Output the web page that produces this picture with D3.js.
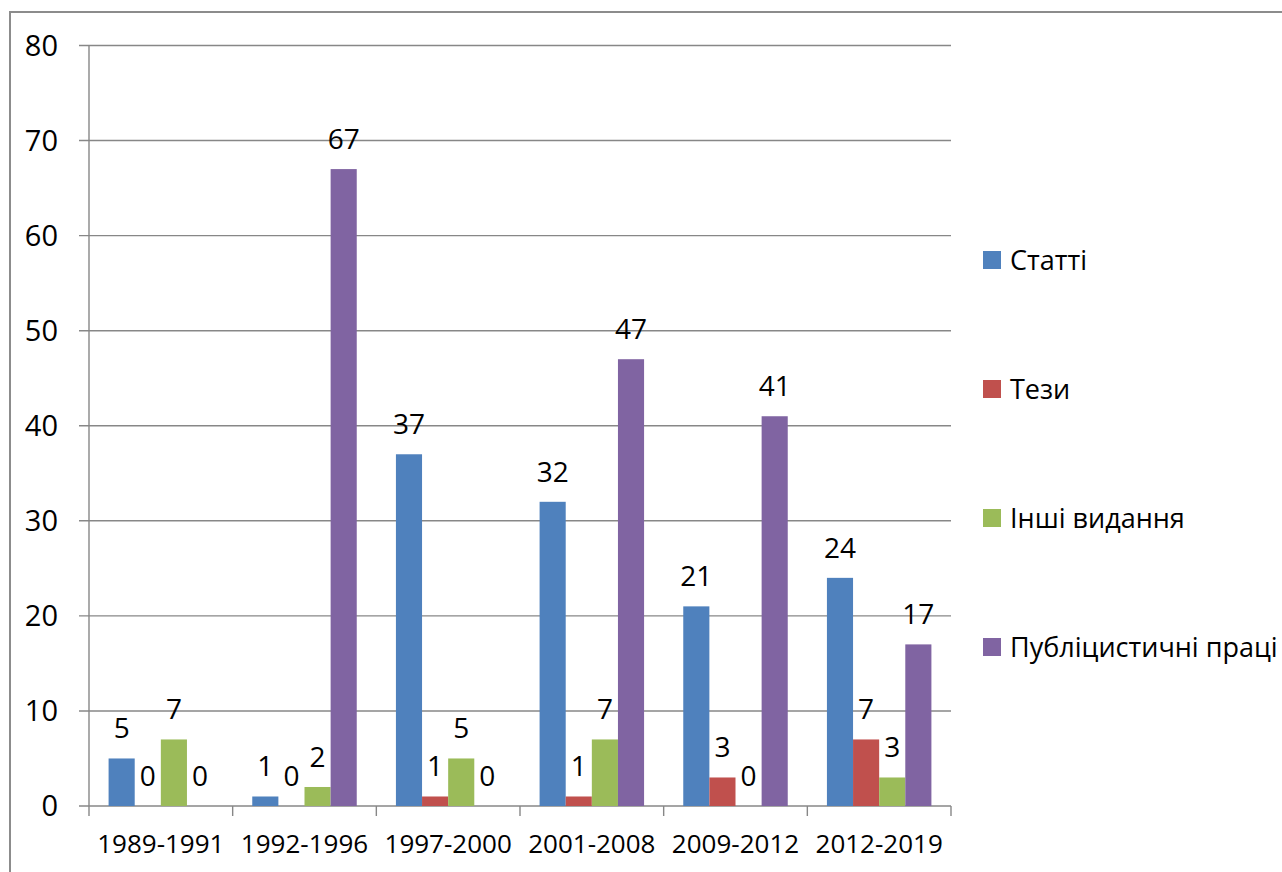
<!DOCTYPE html>
<html><head><meta charset="utf-8">
<script src="https://cdn.jsdelivr.net/npm/d3@7"></script>
<style>
html,body{margin:0;padding:0;background:#fff;overflow:hidden;}
svg{display:block;font-family:"Open Sans",sans-serif;}
</style></head>
<body>
<svg id="chart" width="1282" height="872"></svg>
<script>
const categories = ["1989-1991","1992-1996","1997-2000","2001-2008","2009-2012","2012-2019"];
const seriesNames = ["Статті","Тези","Інші видання","Публіцистичні праці"];
const statti = [5, 1, 37, 32, 21, 24];
const tezy = [0, 0, 1, 1, 3, 7];
const inshi = [7, 2, 5, 7, 0, 3];
const publ = [0, 67, 0, 47, 41, 17];
const yTicks = [0,10,20,30,40,50,60,70,80];
const colors = ["#4F81BD","#C0504D","#9BBB59","#8064A2"];

(function(){
const seriesValues = [statti, tezy, inshi, publ];
const svg = d3.select("#chart");

// outer frame
svg.append("rect").attr("x",10).attr("y",12).attr("width",1300).attr("height",900)
  .attr("fill","none").attr("stroke","#8c8c8c").attr("stroke-width",2);

const pL = 89, pR = 951, pT = 45.5, pB = 806;
const x = d3.scaleBand().domain(categories).range([pL,pR]).paddingInner(0).paddingOuter(0);
const xs = d3.scaleBand().domain(seriesNames).range([0,x.bandwidth()]).paddingInner(0).paddingOuter(0.75);
const y = d3.scaleLinear().domain([0,80]).range([pB,pT]);

// gridlines
svg.append("g").selectAll("line").data(yTicks).join("line")
  .attr("x1",79).attr("x2",pR)
  .attr("y1",d=>y(d)).attr("y2",d=>y(d))
  .attr("stroke","#878787").attr("stroke-width",1.4);

// y axis line
svg.append("line").attr("x1",pL).attr("x2",pL).attr("y1",pT).attr("y2",pB)
  .attr("stroke","#878787").attr("stroke-width",1.4);

// x ticks
const bounds = categories.map(c=>x(c)).concat([pR]);
svg.append("g").selectAll("line").data(bounds).join("line")
  .attr("x1",d=>d).attr("x2",d=>d).attr("y1",pB).attr("y2",pB+10)
  .attr("stroke","#878787").attr("stroke-width",1.4);

// y labels
svg.append("g").selectAll("text").data(yTicks).join("text")
  .attr("x",58).attr("y",d=>y(d)).attr("dy","0.36em")
  .attr("text-anchor","end").attr("font-size",29).attr("fill","#000")
  .text(d=>d);

// x labels
svg.append("g").selectAll("text").data(categories).join("text")
  .attr("x",d=>x(d)+x.bandwidth()/2).attr("y",853)
  .attr("text-anchor","middle").attr("font-size",26).attr("fill","#000")
  .text(d=>d);

// bars
const flat = [];
categories.forEach((c,i)=>seriesNames.forEach((s,j)=>flat.push({c,s,j,v:seriesValues[j][i]})));
svg.append("g").selectAll("rect").data(flat.filter(d=>d.v>0)).join("rect")
  .attr("x",d=>x(d.c)+xs(d.s)).attr("width",xs.bandwidth())
  .attr("y",d=>y(d.v)).attr("height",d=>y(0)-y(d.v))
  .attr("fill",d=>colors[d.j]);

// data labels
svg.append("g").selectAll("text").data(flat).join("text")
  .attr("x",d=>x(d.c)+xs(d.s)+xs.bandwidth()/2).attr("y",d=>y(d.v)-20)
  .attr("text-anchor","middle").attr("font-size",28).attr("fill","#000")
  .text(d=>d.v);

// legend
const legY = [260, 389, 518, 647];
const leg = svg.append("g").selectAll("g").data(seriesNames).join("g")
  .attr("transform",(d,i)=>`translate(983,${legY[i]})`);
leg.append("rect").attr("x",0).attr("y",-9).attr("width",18).attr("height",18)
  .attr("fill",(d,i)=>colors[i]);
leg.append("text").attr("x",27).attr("y",0).attr("dy","0.36em")
  .attr("font-size",27).attr("fill","#000").text(d=>d);
})();
</script>
</body></html>
